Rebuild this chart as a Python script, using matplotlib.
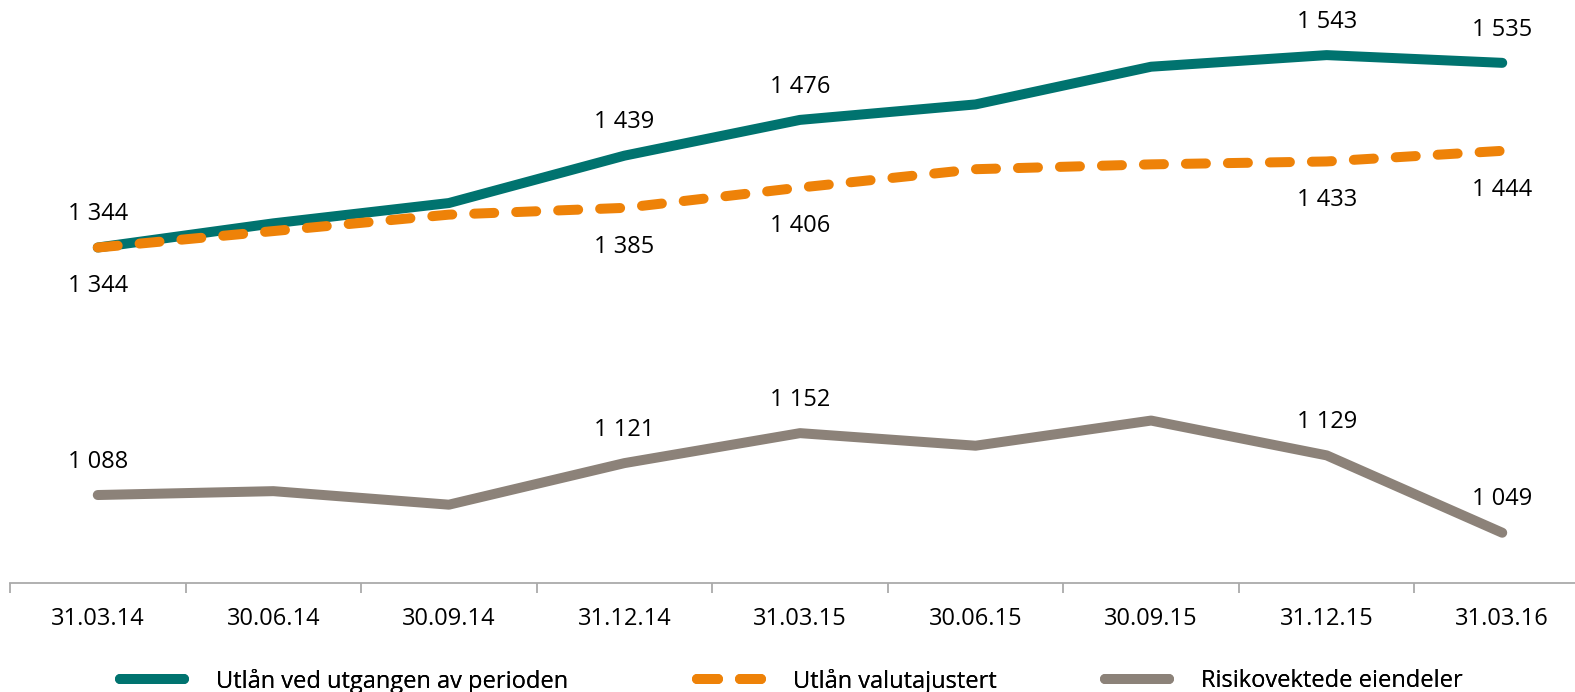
import matplotlib
matplotlib.use('Agg')
import matplotlib.pyplot as plt
from matplotlib.lines import Line2D

# Data
dates = ['31.03.14', '30.06.14', '30.09.14', '31.12.14', '31.03.15',
         '30.06.15', '30.09.15', '31.12.15', '31.03.16']
utlan = [1344, 1369, 1390, 1439, 1476, 1492, 1531, 1543, 1535]
utlan_valuta = [1344, 1361, 1378, 1385, 1406, 1425, 1430, 1433, 1444]
risiko = [1088, 1092, 1078, 1121, 1152, 1139, 1165, 1129, 1049]
labelled = [0, 3, 4, 7, 8]

series_names = ['Utlån ved utgangen av perioden', 'Utlån valutajustert',
                'Risikovektede eiendeler']

teal = '#00736F'
orange = '#EE8208'
grey = '#8C8279'

plt.rcParams['font.family'] = ['Open Sans', 'DejaVu Sans']
fs = 17

fig = plt.figure(figsize=(15.75, 6.92), dpi=100)
ax = fig.add_axes([10 / 1575, 109 / 692, 1580 / 1575, 583 / 692])

x = list(range(len(dates)))
lw = 7.2
ax.plot(x, risiko, color=grey, lw=lw, solid_capstyle='round', solid_joinstyle='round')
ax.plot(x, utlan, color=teal, lw=lw, solid_capstyle='round', solid_joinstyle='round')
ax.plot(x, utlan_valuta, color=orange, lw=lw, dashes=(2.0, 2.2),
        dash_capstyle='round', dash_joinstyle='round')

def fmt(v):
    return '{:,}'.format(v).replace(',', ' ')

for i in labelled:
    ax.annotate(fmt(utlan[i]), (i, utlan[i]), xytext=(0, 24), textcoords='offset points',
                ha='center', va='center', fontsize=fs)
    ax.annotate(fmt(utlan_valuta[i]), (i, utlan_valuta[i]), xytext=(0, -28), textcoords='offset points',
                ha='center', va='center', fontsize=fs)
    ax.annotate(fmt(risiko[i]), (i, risiko[i]), xytext=(0, 24), textcoords='offset points',
                ha='center', va='center', fontsize=fs)

ax.set_xlim(-0.5, len(dates) - 0.5)
ax.set_ylim(997, 1600)
for s in ['top', 'right', 'left']:
    ax.spines[s].set_visible(False)
ax.spines['bottom'].set_color('#AAAAAA')
ax.spines['bottom'].set_linewidth(1.3)
ax.set_yticks([])
ax.set_xticks([i - 0.5 for i in range(len(dates) + 1)])
ax.set_xticklabels([])
ax.set_xticks(x, minor=True)
ax.set_xticklabels(dates, minor=True, fontsize=fs)
ax.tick_params(axis='x', which='major', length=7, width=1.3, color='#AAAAAA', direction='out')
ax.tick_params(axis='x', which='minor', length=0, pad=17)

handles = [
    Line2D([0], [0], color=teal, lw=lw, solid_capstyle='round'),
    Line2D([0], [0], color=orange, lw=lw, dashes=(2.1, 2.2), dash_capstyle='round'),
    Line2D([0], [0], color=grey, lw=lw, solid_capstyle='round'),
]
# legend entries placed by hand along the bottom
legend_x = [120, 697, 1105]
for h, name, lx in zip(handles, series_names, legend_x):
    leg = fig.legend([h], [name], loc='center left',
                     bbox_to_anchor=(lx / 1575, 11 / 692),
                     frameon=False, fontsize=fs, handlelength=2.7, handletextpad=1.35,
                     borderaxespad=0, borderpad=0)
    fig.add_artist(leg)

fig.savefig('out.png', dpi=100)
